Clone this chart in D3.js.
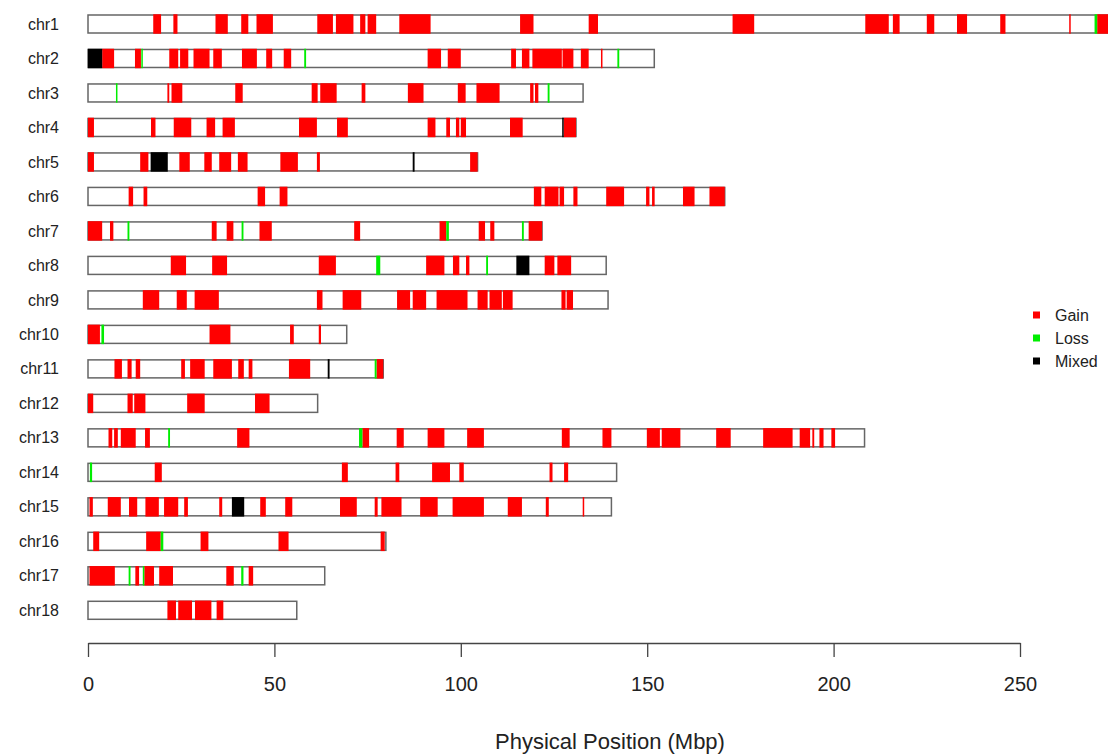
<!DOCTYPE html>
<html>
<head>
    <title>CNV map</title>
    <script src="https://d3js.org/d3.v7.min.js"></script>
    <style>
        body { margin: 0; background: #fff; }
        text { font-family: "Liberation Sans", Arial, sans-serif; fill: #222; }
    </style>
</head>
<body>
    <script>
// chromosome names and lengths (Mbp)
let chroms = ["chr1","chr2","chr3","chr4","chr5","chr6","chr7","chr8","chr9",
              "chr10","chr11","chr12","chr13","chr14","chr15","chr16","chr17","chr18"];
let chromLengths = [274.3, 151.9, 132.8, 130.9, 104.5, 170.8, 121.8, 139.0, 139.5,
                    69.4, 79.2, 61.6, 208.3, 141.8, 140.4, 79.9, 63.5, 56.0];

// segments: [chromosome, start, end] in Mbp
let gain = [
    ["chr1",17.5,19.6],["chr1",22.9,24.0],["chr1",34.2,37.5],["chr1",41.1,43.0],["chr1",45.2,49.6],
    ["chr1",61.5,65.7],["chr1",66.5,71.2],["chr1",73.0,74.4],["chr1",75.0,77.3],["chr1",83.5,91.9],
    ["chr1",115.9,119.5],["chr1",134.3,136.8],["chr1",172.9,178.7],["chr1",208.5,214.8],["chr1",215.9,217.7],
    ["chr1",225.0,227.0],["chr1",233.1,235.8],["chr1",244.7,246.1],["chr1",263.2,263.6],["chr1",270.7,274.3],
    ["chr2",3.8,7.0],["chr2",12.6,14.2],["chr2",21.8,24.2],["chr2",24.7,26.9],["chr2",28.3,32.6],
    ["chr2",33.6,35.9],["chr2",41.3,45.3],["chr2",47.8,49.4],["chr2",52.5,54.5],["chr2",91.1,94.7],
    ["chr2",96.5,100.0],["chr2",113.5,114.8],["chr2",116.4,118.4],["chr2",119.2,127.1],["chr2",127.3,130.2],
    ["chr2",132.2,134.3],["chr2",137.6,138.0],
    ["chr3",21.3,21.8],["chr3",22.4,25.3],["chr3",39.5,41.5],["chr3",60.0,61.6],["chr3",62.3,66.7],
    ["chr3",73.4,74.4],["chr3",85.8,90.0],["chr3",99.2,101.3],["chr3",104.2,110.4],["chr3",118.6,119.5],
    ["chr3",119.9,120.8],
    ["chr4",0,1.6],["chr4",16.9,18.1],["chr4",23.0,27.7],["chr4",31.8,34.1],["chr4",36.1,39.4],
    ["chr4",56.6,61.4],["chr4",66.8,69.7],["chr4",91.1,93.2],["chr4",96.1,97.1],["chr4",98.7,99.6],
    ["chr4",100.0,101.4],["chr4",113.2,116.6],["chr4",127.6,130.9],
    ["chr5",0,1.6],["chr5",14.0,16.2],["chr5",24.5,27.3],["chr5",31.2,33.2],["chr5",35.2,38.4],
    ["chr5",40.2,42.8],["chr5",51.6,56.3],["chr5",61.4,62.2],["chr5",102.5,104.5],
    ["chr6",10.9,12.1],["chr6",14.9,15.9],["chr6",45.5,47.5],["chr6",51.4,53.5],["chr6",119.6,121.6],
    ["chr6",122.5,126.2],["chr6",126.5,127.7],["chr6",130.2,131.3],["chr6",139.0,143.8],["chr6",149.7,150.6],
    ["chr6",151.3,152.0],["chr6",159.6,162.7],["chr6",166.7,170.8],
    ["chr7",0,3.8],["chr7",5.9,6.8],["chr7",33.2,34.5],["chr7",37.2,39.0],["chr7",46.0,49.3],
    ["chr7",71.4,73.0],["chr7",94.3,96.1],["chr7",104.8,106.5],["chr7",107.9,109.0],["chr7",118.2,121.8],
    ["chr8",22.2,26.3],["chr8",33.3,37.3],["chr8",61.9,66.5],["chr8",90.7,95.6],["chr8",97.9,99.6],
    ["chr8",101.4,102.3],["chr8",122.5,125.1],["chr8",125.9,129.6],
    ["chr9",14.7,19.1],["chr9",23.8,26.5],["chr9",28.6,35.1],["chr9",61.4,62.9],["chr9",68.3,73.3],
    ["chr9",82.9,86.4],["chr9",87.1,90.7],["chr9",93.5,101.8],["chr9",104.5,107.2],["chr9",107.7,111.0],
    ["chr9",111.3,113.9],["chr9",127.0,128.1],["chr9",128.4,130.1],
    ["chr10",0,3.2],["chr10",32.6,38.2],["chr10",54.2,55.2],["chr10",61.9,62.5],
    ["chr11",7.1,9.1],["chr11",10.6,11.7],["chr11",12.8,14.0],["chr11",25.0,26.0],["chr11",27.4,31.3],
    ["chr11",33.6,38.6],["chr11",40.3,41.8],["chr11",43.1,44.1],["chr11",53.9,59.6],["chr11",77.4,79.2],
    ["chr12",0,1.4],["chr12",10.6,12.0],["chr12",12.4,15.4],["chr12",26.6,31.3],["chr12",44.8,48.7],
    ["chr13",5.5,6.5],["chr13",7.0,8.0],["chr13",8.8,12.8],["chr13",15.3,16.6],["chr13",40.0,43.3],
    ["chr13",73.6,75.4],["chr13",82.8,84.7],["chr13",91.1,95.6],["chr13",101.7,106.2],["chr13",127.1,129.2],
    ["chr13",138.0,140.4],["chr13",149.9,153.4],["chr13",153.9,158.9],["chr13",168.5,172.4],["chr13",181.1,189.0],
    ["chr13",190.9,193.7],["chr13",194.3,194.8],["chr13",196.2,197.3],["chr13",199.4,200.4],
    ["chr14",17.9,19.8],["chr14",68.1,69.7],["chr14",82.5,83.5],["chr14",92.3,97.1],["chr14",99.6,100.8],
    ["chr14",123.8,124.6],["chr14",127.7,128.8],
    ["chr15",0.4,1.3],["chr15",5.3,8.8],["chr15",11.0,13.2],["chr15",15.4,19.0],["chr15",20.4,24.2],
    ["chr15",25.8,26.8],["chr15",35.2,36.0],["chr15",46.2,47.7],["chr15",52.9,54.8],["chr15",67.6,72.1],
    ["chr15",76.9,77.7],["chr15",78.7,84.1],["chr15",89.1,93.8],["chr15",97.8,106.2],["chr15",112.6,116.4],
    ["chr15",122.8,123.6],["chr15",132.7,133.1],
    ["chr16",1.4,3.0],["chr16",15.6,19.5],["chr16",30.2,32.3],["chr16",51.1,53.8],["chr16",78.5,79.6],
    ["chr17",0.4,7.2],["chr17",12.7,13.7],["chr17",15.1,17.7],["chr17",19.1,22.8],["chr17",37.1,39.1],
    ["chr17",43.1,44.3],
    ["chr18",21.3,23.6],["chr18",24.2,27.9],["chr18",28.7,33.1],["chr18",34.5,36.3]
];

let loss = [
    ["chr1",270.0,270.7],["chr2",14.3,14.7],["chr2",58.0,58.5],["chr2",142.0,142.5],
    ["chr3",7.5,7.9],["chr3",123.3,123.8],
    ["chr7",10.6,11.1],["chr7",41.2,41.7],["chr7",96.1,96.8],["chr7",116.4,116.9],
    ["chr8",77.3,78.4],["chr8",106.8,107.3],["chr10",3.6,4.3],["chr11",76.9,77.4],
    ["chr13",21.5,22.0],["chr13",72.7,73.6],["chr14",0.5,1.1],["chr16",19.5,20.2],
    ["chr17",10.9,11.4],["chr17",14.7,15.1],["chr17",41.1,41.7]
];

let mixed = [
    ["chr2",0,3.8],["chr4",127.2,127.6],["chr5",16.8,21.4],["chr5",87.1,87.6],
    ["chr8",114.9,118.4],["chr11",64.3,64.8],["chr15",38.6,41.9]
];

let legendLabels = ["Gain", "Loss", "Mixed"];
let legendColors = ["#ff0000", "#00ee00", "#000000"];
let xTicks = [0, 50, 100, 150, 200, 250];

let width = 1108, height = 756;
let barH = 18;

let x = d3.scaleLinear().domain([0, 250]).range([88, 1020]);
let y = d3.scalePoint().domain(chroms).range([24, 610.3]);

let svg = d3.select("body").append("svg")
    .attr("width", width)
    .attr("height", height);

// chromosome outlines
svg.append("g").selectAll("rect")
    .data(chroms)
    .join("rect")
    .attr("x", x(0))
    .attr("y", d => y(d) - barH / 2)
    .attr("width", (d, i) => x(chromLengths[i]) - x(0))
    .attr("height", barH)
    .attr("fill", "#fff")
    .attr("stroke", "#666")
    .attr("stroke-width", 1.5);

// CNV segments, drawn on top of the outline
function drawSegs(data, color) {
    svg.append("g").selectAll("rect")
        .data(data)
        .join("rect")
        .attr("x", d => x(d[1]))
        .attr("y", d => y(d[0]) - barH / 2 - 0.75)
        .attr("width", d => Math.max(1.5, x(d[2]) - x(d[1])))
        .attr("height", barH + 1.5)
        .attr("fill", color);
}
drawSegs(gain, legendColors[0]);
drawSegs(loss, legendColors[1]);
drawSegs(mixed, legendColors[2]);

// chromosome labels
svg.append("g").selectAll("text")
    .data(chroms)
    .join("text")
    .attr("x", 59)
    .attr("y", d => y(d))
    .attr("dy", "0.35em")
    .attr("text-anchor", "end")
    .style("font-size", "16px")
    .text(d => d);

// x axis
let axis = svg.append("g")
    .attr("transform", "translate(0,643)")
    .call(d3.axisBottom(x).tickValues(xTicks).tickSize(14).tickPadding(20).tickSizeOuter(0));
axis.select(".domain").attr("stroke", "#444").attr("stroke-width", 1.3);
axis.selectAll(".tick line").attr("stroke", "#444").attr("stroke-width", 1.3);
axis.selectAll(".tick text")
    .style("font-size", "20px")
    .style("font-family", "'Liberation Sans', Arial, sans-serif")
    .attr("fill", "#222");

svg.append("text")
    .attr("x", 610)
    .attr("y", 749)
    .attr("text-anchor", "middle")
    .style("font-size", "22px")
    .text("Physical Position (Mbp)");

// legend
let legend = svg.append("g").selectAll("g")
    .data(legendLabels)
    .join("g")
    .attr("transform", (d, i) => "translate(1033," + (315 + i * 23) + ")");
legend.append("rect")
    .attr("x", 0).attr("y", -3.5)
    .attr("width", 7).attr("height", 7)
    .attr("fill", (d, i) => legendColors[i]);
legend.append("text")
    .attr("x", 22)
    .attr("dy", "0.35em")
    .style("font-size", "16px")
    .text(d => d);
    </script>
</body>
</html>
